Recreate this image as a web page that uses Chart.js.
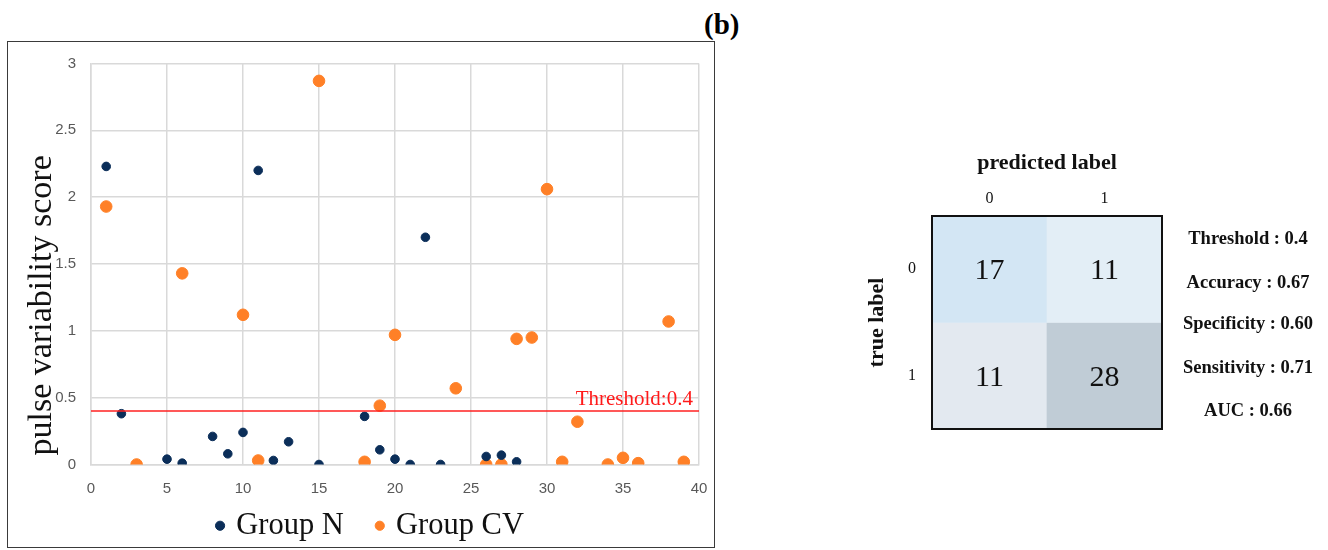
<!DOCTYPE html>
<html>
<head>
<meta charset="utf-8">
<script src="https://cdn.jsdelivr.net/npm/chart.js@4.4.1/dist/chart.umd.min.js"></script>
<style>
  body { margin: 0; background: #fff; width: 1328px; height: 550px; position: relative; overflow: hidden; }
  #panelTag { position: absolute; left: 704px; top: 8px; font: bold 29px "Liberation Serif", serif; }
  #frame { position: absolute; left: 7px; top: 41px; width: 706px; height: 505px; border: 1.5px solid #3a3a3a; }
  #scatterWrap { position: absolute; left: 0; top: 0; width: 706px; height: 505px; }
  #matrixWrap { position: absolute; left: 860px; top: 140px; width: 320px; height: 300px; }
  .metric { position: absolute; left: 1177px; width: 142px; text-align: center; font: bold 18.5px/20px "Liberation Serif", serif; color: #111; }
</style>
</head>
<body>
<div id="panelTag">(b)</div>
<div id="frame"><div id="scatterWrap"><canvas id="scatterChart"></canvas></div></div>
<div id="matrixWrap"><canvas id="matrixChart"></canvas></div>
<div class="metric" style="top:228px">Threshold : 0.4</div>
<div class="metric" style="top:272px">Accuracy : 0.67</div>
<div class="metric" style="top:313px">Specificity : 0.60</div>
<div class="metric" style="top:357px">Sensitivity : 0.71</div>
<div class="metric" style="top:400px">AUC : 0.66</div>

<script>
// pulse variability scores per subject
const groupNx = [1, 2, 5, 6, 8, 9, 10, 11, 12, 13, 15, 18, 19, 20, 21, 22, 23, 26, 27, 28];
const groupNy = [2.23, 0.38, 0.04, 0.01, 0.21, 0.08, 0.24, 2.2, 0.03, 0.17, 0.0, 0.36, 0.11, 0.04, 0.0, 1.7, 0.0, 0.06, 0.07, 0.02];
const groupCVx = [1, 3, 6, 10, 11, 15, 18, 19, 20, 24, 26, 27, 28, 29, 30, 31, 32, 34, 35, 36, 38, 39];
const groupCVy = [1.93, 0.0, 1.43, 1.12, 0.03, 2.87, 0.02, 0.44, 0.97, 0.57, 0.0, 0.0, 0.94, 0.95, 2.06, 0.02, 0.32, 0.0, 0.05, 0.01, 1.07, 0.02];
const threshold = 0.4;

// confusion matrix (rows = true label, cols = predicted label)
const predictedLabels = ['0', '1'];
const trueLabels = ['0', '1'];
const matrixCounts = [[17, 11], [11, 28]];

const serif = '"Liberation Serif", "Times New Roman", serif';
const sans = '"Liberation Sans", Arial, sans-serif';

function toPoints(xs, ys) {
    return xs.map((x, i) => ({ x: x, y: ys[i] }));
}

// threshold caption above the red line, plus the rotated y axis title
const scatterText = {
    id: 'scatterText',
    afterDatasetsDraw(chart) {
        const ctx = chart.ctx;
        const x = chart.scales.x.getPixelForValue(39.6);
        const y = chart.scales.y.getPixelForValue(threshold);
        ctx.save();
        ctx.font = '21px ' + serif;
        ctx.fillStyle = '#ff1a1a';
        ctx.textAlign = 'right';
        ctx.textBaseline = 'bottom';
        ctx.fillText('Threshold:' + threshold, x, y - 1);
        ctx.restore();

        const a = chart.chartArea;
        ctx.save();
        ctx.translate(a.left - 49, a.bottom - 9);
        ctx.rotate(-Math.PI / 2);
        ctx.font = '34px ' + serif;
        ctx.fillStyle = '#111';
        ctx.textAlign = 'left';
        ctx.textBaseline = 'middle';
        ctx.fillText('pulse variability score', 0, 0);
        ctx.restore();
    }
};

new Chart(document.getElementById('scatterChart'), {
    type: 'scatter',
    data: {
        datasets: [
            {
                label: 'Group N',
                data: toPoints(groupNx, groupNy),
                backgroundColor: '#0b2e59',
                borderColor: '#0b2e59',
                pointRadius: 4.3,
                order: 1
            },
            {
                label: 'Group CV',
                data: toPoints(groupCVx, groupCVy),
                backgroundColor: '#ff8027',
                borderColor: '#ff8027',
                pointRadius: 5.8,
                order: 2
            },
            {
                type: 'line',
                label: 'threshold',
                data: [{ x: 0, y: threshold }, { x: 40, y: threshold }],
                borderColor: '#ff2020',
                borderWidth: 1.6,
                pointRadius: 0,
                order: 0
            }
        ]
    },
    options: {
        responsive: true,
        maintainAspectRatio: false,
        animation: false,
        layout: { padding: { top: 21.5, right: 15, left: 36, bottom: -4 } },
        plugins: {
            tooltip: { enabled: false },
            legend: {
                position: 'bottom',
                labels: {
                    usePointStyle: true,
                    pointStyle: 'circle',
                    boxWidth: 2,
                    boxHeight: 6.5,
                    padding: 12,
                    color: '#111',
                    font: { family: serif, size: 30.5 },
                    filter: item => item.datasetIndex !== 2,
                    // a little extra room after the first entry
                    generateLabels: chart => {
                        const items = Chart.defaults.plugins.legend.labels.generateLabels(chart);
                        items.forEach(it => { if (it.datasetIndex === 0) it.text += '   '; });
                        return items;
                    }
                }
            }
        },
        scales: {
            x: {
                type: 'linear',
                min: 0,
                max: 40,
                ticks: { stepSize: 5, color: '#595959', padding: 15, font: { family: sans, size: 15 } },
                grid: { color: '#d9d9d9', lineWidth: 1.5, drawTicks: false },
                border: { color: '#d9d9d9', width: 1.5 },
                afterFit: s => { s.height = 34; s.paddingLeft = 0; s.paddingRight = 0; }
            },
            y: {
                min: 0,
                max: 3,
                ticks: { stepSize: 0.5, color: '#595959', padding: 15, font: { family: sans, size: 15 }, callback: v => String(v) },
                grid: { color: '#d9d9d9', lineWidth: 1.5, drawTicks: false },
                border: { color: '#d9d9d9', width: 1.5 },
                afterFit: s => { s.width = 47; s.paddingTop = 0; s.paddingBottom = 0; }
            }
        }
    },
    plugins: [scatterText]
});

// cell shades for the confusion matrix, row by row
const cellColors = [['#d3e6f4', '#e3eef6'], ['#e3e9f0', '#c0ccd6']];

// counts written in each cell plus the outer box
const matrixText = {
    id: 'matrixText',
    afterDatasetsDraw(chart) {
        const ctx = chart.ctx;
        ctx.save();
        ctx.font = '30px ' + serif;
        ctx.fillStyle = '#111';
        ctx.textAlign = 'center';
        ctx.textBaseline = 'middle';
        chart.data.datasets.forEach((ds, r) => {
            chart.getDatasetMeta(r).data.forEach((bar, c) => {
                const p = bar.getProps(['x', 'y', 'base'], true);
                ctx.fillText(String(matrixCounts[r][c]), p.x, (p.y + p.base) / 2 + 2);
            });
        });
        const a = chart.chartArea;
        ctx.strokeStyle = '#111';
        ctx.lineWidth = 2;
        ctx.strokeRect(a.left, a.top, a.right - a.left, a.bottom - a.top);
        ctx.restore();
    }
};

new Chart(document.getElementById('matrixChart'), {
    type: 'bar',
    data: {
        labels: predictedLabels,
        datasets: trueLabels.map((t, r) => ({
            label: 'true ' + t,
            data: matrixCounts[r].map(() => 1),
            backgroundColor: cellColors[r],
            borderWidth: 0,
            barPercentage: 1,
            categoryPercentage: 1
        }))
    },
    options: {
        responsive: true,
        maintainAspectRatio: false,
        animation: false,
        layout: { padding: { top: 0, right: 18, left: 0, bottom: 11 } },
        plugins: { legend: { display: false }, tooltip: { enabled: false } },
        scales: {
            x: {
                position: 'top',
                stacked: true,
                grid: { display: false },
                border: { display: false },
                ticks: { color: '#111', padding: 0, font: { family: serif, size: 16 } },
                title: { display: true, text: 'predicted label', color: '#111', font: { family: serif, size: 22, weight: 'bold' }, padding: { top: 10, bottom: 8 } },
                afterFit: s => { s.height = 76; s.paddingLeft = 0; s.paddingRight = 0; }
            },
            y: {
                stacked: true,
                reverse: true,
                min: 0,
                max: 2,
                grid: { display: false },
                border: { display: false },
                afterBuildTicks: s => { s.ticks = trueLabels.map((t, i) => ({ value: i + 0.5 })); },
                ticks: {
                    color: '#111',
                    padding: 8,
                    font: { family: serif, size: 16 },
                    callback: v => trueLabels[Math.floor(v)]
                },
                title: { display: true, text: 'true label', color: '#111', font: { family: serif, size: 22, weight: 'bold' }, padding: { top: 4, bottom: 10 } },
                afterFit: s => { s.width = 72; s.paddingTop = 0; s.paddingBottom = 0; }
            }
        }
    },
    plugins: [matrixText]
});
</script>
</body>
</html>
